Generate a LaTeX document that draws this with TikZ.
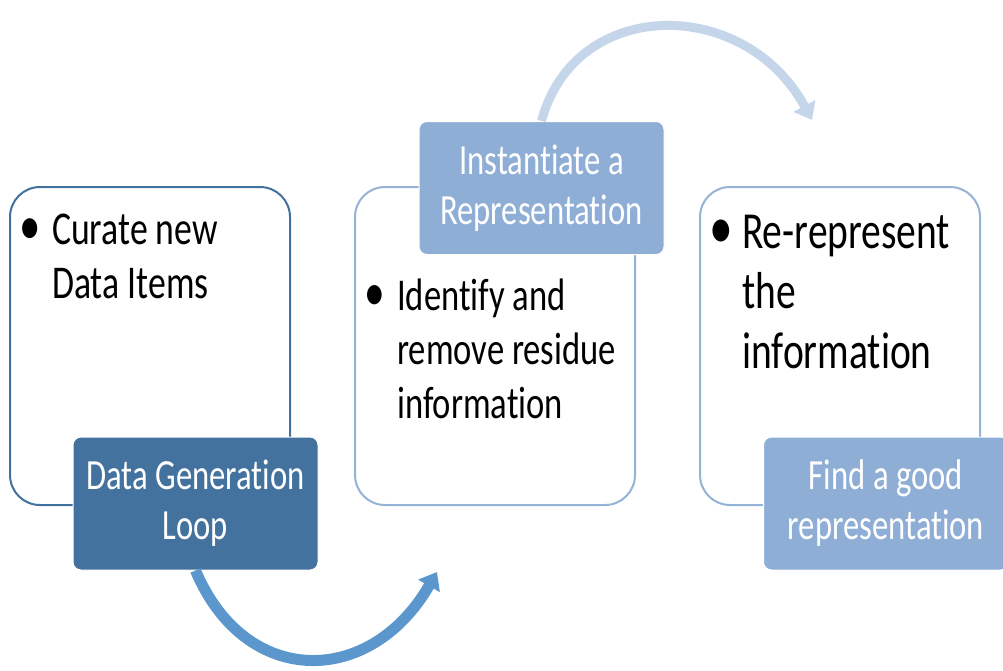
\documentclass[tikz,border=0pt]{standalone}
\usepackage{fontspec}
\setmainfont{Carlito}[FakeStretch=0.76, Ligatures=NoCommon]
\usetikzlibrary{arrows.meta}

\newcommand\bulleted[1]{\makebox[27pt][l]{\hspace{-6pt}\scalebox{1.2}{•}}\begin{tabular}[t]{@{}l@{}}#1\end{tabular}}

\begin{document}
\begin{tikzpicture}[x=1pt,y=-1pt]
  % Styles
  \tikzset{
    panel/.style={draw, line width=2pt, fill=white, rounded corners=30pt,
      minimum width=280pt, minimum height=318pt, inner sep=0pt},
    tag/.style={rounded corners=8pt, draw=white, line width=1pt, text=white,
      minimum width=245pt, minimum height=133pt, align=center, inner sep=0pt,
      font=\fontsize{43}{50}\selectfont},
    body/.style={anchor=base west, inner sep=0pt, align=left},
    loop/.style={line width=11pt, -{Triangle[length=16pt,width=24pt]}}
  }

  % Colors
  \definecolor{darkedge}{HTML}{41719C}
  \definecolor{darktag}{HTML}{44729E}
  \definecolor{paleedge}{HTML}{95B3D7}
  \definecolor{paletag}{HTML}{8EAED6}
  \definecolor{bluearc}{HTML}{5B97CD}
  \definecolor{palearc}{HTML}{C5D6EB}

  \useasboundingbox (0,0) rectangle (1003,670);

  % Panels
  \node[panel, draw=darkedge] (curate) at (150,346) {};
  \node[panel, draw=paleedge] (residue) at (495,346) {};
  \node[panel, draw=paleedge] (rerep) at (840,346) {};

  % Panel texts
  \node[body, font=\fontsize{47}{54}\selectfont] (curatetxt) at (25,244)
    {\bulleted{Curate new\\Data Items}};
  \node[body, font=\fontsize{45.5}{54}\selectfont] (residuetxt) at (370,310)
    {\bulleted{Identify and\\remove residue\\information}};
  \node[body, font=\fontsize{52}{60}\selectfont] (rereptxt) at (715,248)
    {\bulleted{Re-represent\\the\\information}};

  % Tags
  \node[tag, fill=darktag] (dgl) at (195.5,503.5) {Data Generation\\Loop};
  \node[tag, fill=paletag] (inst) at (541.5,188) {Instantiate a\\Representation};
  \node[tag, fill=paletag] (good) at (886,503.5) {Find a good\\representation};

  % Loop arrows
  \coordinate (lowtip) at (437,572);
  \coordinate (hightip) at (812,120);
  \draw[loop, bluearc] (dgl.south) .. controls (245,688) and (370,688) .. (lowtip);
  \draw[loop, palearc, line width=9pt] (inst.north) .. controls (575,-4) and (745,-4) .. (hightip);
\end{tikzpicture}
\end{document}
